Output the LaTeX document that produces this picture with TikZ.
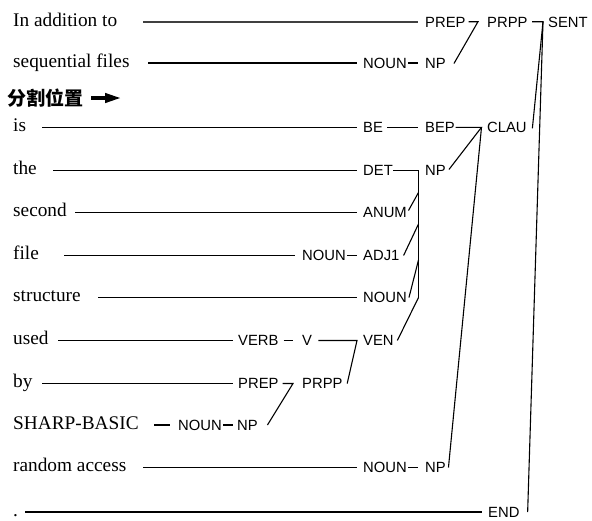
\documentclass[tikz,border=0pt]{standalone}
\usepackage{fontspec}
\setmainfont{Liberation Serif}
\setsansfont{Liberation Sans}
\newfontfamily\cjkfont{Noto Sans CJK SC}
\tikzset{
  word/.style={anchor=base west, inner sep=0pt, font=\fontsize{19.3}{22}\selectfont},
  tag/.style={anchor=west, inner sep=0pt, text height=10.6pt, text depth=0pt, font=\sffamily\fontsize{14.8}{17}\selectfont},
  conn/.style={line width=1.1pt, black},
}
\begin{document}
\begin{tikzpicture}[x=1pt,y=-1pt]
\useasboundingbox (0,0) rectangle (592,520);
% row y positions
\def\ra{21.7}\def\rb{63}\def\rc{127.3}\def\rd{170.5}\def\re{212.5}\def\rf{255.5}
\def\rg{297.5}\def\rh{340.5}\def\ri{383.5}\def\rj{425}\def\rk{467.5}\def\rl{512}
% words
\node[word] (w1) at (13,\ra+4.3) {In addition to};
\node[word] (w2) at (13,\rb+4.3) {sequential files};
\node[word] (w3) at (13,\rc+4.3) {is};
\node[word] (w4) at (13,\rd+4.3) {the};
\node[word] (w5) at (13,\re+4.3) {second};
\node[word] (w6) at (13,\rf+4.3) {file};
\node[word] (w7) at (13,\rg+4.3) {structure};
\node[word] (w8) at (13,\rh+4.3) {used};
\node[word] (w9) at (13,\ri+4.3) {by};
\node[word] (w10) at (13,\rj+4.3) {SHARP-BASIC};
\node[word] (w11) at (13,\rk+4.3) {random access};
\node[word] (w12) at (13,\rl+4.3) {.};
% split marker
\node[anchor=base west, inner sep=0pt, font=\cjkfont\bfseries\fontsize{19}{22}\selectfont] (split) at (7,105.5) {分割位置};
\coordinate (arrA) at (91,96.2);
\coordinate (arrB) at (106,99.8);
\coordinate (arrT) at (120,98);
\fill (arrA) rectangle (arrB);
\fill (105,92.8) -- (arrT) -- (105,103.2) -- cycle;
% tags
\node[tag] (prepA) at (425,\ra) {PREP};
\node[tag] (prppA) at (487,\ra) {PRPP};
\node[tag] (sent) at (548,\ra) {SENT};
\node[tag] (nounB) at (363,\rb) {NOUN};
\node[tag] (npB) at (425,\rb) {NP};
\node[tag] (be) at (363,\rc) {BE};
\node[tag] (bep) at (425,\rc) {BEP};
\node[tag] (clau) at (487,\rc) {CLAU};
\node[tag] (det) at (363,\rd) {DET};
\node[tag] (npD) at (425,\rd) {NP};
\node[tag] (anum) at (363,\re) {ANUM};
\node[tag] (nounF) at (302,\rf) {NOUN};
\node[tag] (adj) at (363,\rf) {ADJ1};
\node[tag] (nounG) at (363,\rg) {NOUN};
\node[tag] (verb) at (238,\rh) {VERB};
\node[tag] (v) at (302,\rh) {V};
\node[tag] (ven) at (363,\rh) {VEN};
\node[tag] (prepI) at (238,\ri) {PREP};
\node[tag] (prppI) at (302,\ri) {PRPP};
\node[tag] (nounJ) at (178,\rj) {NOUN};
\node[tag] (npJ) at (237,\rj) {NP};
\node[tag] (nounK) at (363,\rk) {NOUN};
\node[tag] (npK) at (425,\rk) {NP};
\node[tag] (endt) at (488,\rl) {END};
% start points of word lines
\coordinate (s1) at (143,\ra);
\coordinate (s2) at (148,\rb);
\coordinate (s3) at (42,\rc);
\coordinate (s4) at (53,\rd);
\coordinate (s5) at (75,\re);
\coordinate (s6) at (64,\rf);
\coordinate (s7) at (98,\rg);
\coordinate (s8) at (58,\rh);
\coordinate (s9) at (42,\ri);
\coordinate (s10) at (154,\rj);
\coordinate (s11) at (143,\rk);
\coordinate (s12) at (25,\rl);
% junctions
\coordinate (jA) at (478,\ra);
\coordinate (jB) at (543,\ra);
\coordinate (jC) at (481.5,\rc);
\coordinate (jD) at (418.5,\rd);
\coordinate (jDb) at (418.5,\rg);
\coordinate (jE) at (357,\rh);
\coordinate (jF) at (293,\ri);
% word lines
\draw[conn, line width=1.8pt, black!75] (s1) -- ([xshift=-7pt]prepA.west);
\draw[conn] (s2) -- ([xshift=-6pt]nounB.west);
\draw[conn] (s3) -- ([xshift=-6pt]be.west);
\draw[conn] (s4) -- ([xshift=-6pt]det.west);
\draw[conn] (s5) -- ([xshift=-6pt]anum.west);
\draw[conn] (s6) -- ([xshift=-7pt]nounF.west);
\draw[conn] (s7) -- ([xshift=-6pt]nounG.west);
\draw[conn] (s8) -- ([xshift=-5pt]verb.west);
\draw[conn] (s9) -- ([xshift=-5pt]prepI.west);
\draw[conn] (s10) -- ([xshift=-8pt]nounJ.west);
\draw[conn] (s11) -- ([xshift=-6pt]nounK.west);
\draw[conn] (s12) -- ([xshift=-6pt]endt.west);
% tag to tag
\draw[conn] ([xshift=1pt]nounB.east) -- ([xshift=-7pt]npB.west);
\draw[conn] ([xshift=4pt]be.east) -- ([xshift=-7pt]bep.west);
\draw[conn] ([xshift=1pt]nounF.east) -- ([xshift=-6pt]adj.west);
\draw[conn] ([xshift=5pt]verb.east) -- ([xshift=-9pt]v.west);
\draw[conn] ([xshift=1.5pt]nounJ.east) -- ([xshift=-4pt]npJ.west);
\draw[conn] ([xshift=1.5pt]nounK.east) -- ([xshift=-7pt]npK.west);
% PREP + NP -> PRPP
\draw[conn] ([xshift=3pt]prepA.east) -- (jA) -- ([xshift=8pt,yshift=-0.5pt]npB.east);
% PRPP + CLAU + END -> SENT
\draw[conn] ([xshift=4.5pt]prppA.east) -- (jB) -- ([xshift=5.5pt,yshift=-1pt]clau.east);
\draw[conn] (jB) -- ([xshift=8pt]endt.east);
% BEP + NP + NP -> CLAU
\draw[conn] ([xshift=0.5pt]bep.east) -- (jC) -- ([xshift=3pt,yshift=1pt]npD.east);
\draw[conn] (jC) -- ([xshift=2.5pt]npK.east);
% NP group
\draw[conn] (det.east) -- (jD) -- (jDb);
\draw[conn] ([xshift=1.5pt,yshift=2pt]anum.east) -- (418.5,192.5);
\draw[conn] ([xshift=4pt]adj.east) -- (418.5,224);
\draw[conn] ([xshift=2pt]nounG.east) -- (418.5,260);
\draw[conn] ([xshift=3.5pt]ven.east) -- (jDb);
% V + PRPP -> VEN
\draw[conn] ([xshift=6pt]v.east) -- (jE) -- ([xshift=4.5pt]prppI.east);
% PREP + NP -> PRPP
\draw[conn] ([xshift=4pt]prepI.east) -- (jF) -- ([xshift=9.5pt]npJ.east);
\end{tikzpicture}
\end{document}
